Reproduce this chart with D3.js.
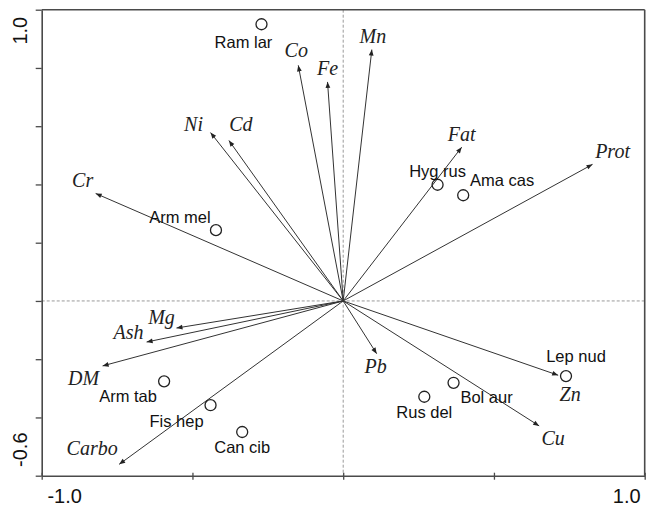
<!DOCTYPE html>
<html>
<head>
<meta charset="utf-8">
<script src="https://cdn.jsdelivr.net/npm/d3@7"></script>
<style>
  html, body { margin: 0; padding: 0; background: #fff; }
  svg { display: block; }
</style>
</head>
<body>
<svg id="chart" width="646" height="506"></svg>
<script>
// Variable loadings (arrows)
const variables = ["Co", "Fe", "Mn", "Ni", "Cd", "Cr", "Fat", "Prot", "Mg", "Ash", "DM", "Carbo", "Pb", "Zn", "Cu"];
const varX = [-0.149, -0.052, 0.095, -0.440, -0.379, -0.821, 0.393, 0.827, -0.553, -0.652, -0.798, -0.743, 0.111, 0.713, 0.650];
const varY = [0.809, 0.752, 0.863, 0.578, 0.551, 0.369, 0.528, 0.469, -0.093, -0.141, -0.223, -0.561, -0.181, -0.255, -0.429];

// Species scores (circles)
const species = ["Ram lar", "Arm mel", "Hyg rus", "Ama cas", "Arm tab", "Fis hep", "Can cib", "Lep nud", "Bol aur", "Rus del"];
const spX = [-0.271, -0.422, 0.313, 0.398, -0.594, -0.440, -0.335, 0.739, 0.366, 0.269];
const spY = [0.950, 0.243, 0.399, 0.363, -0.276, -0.358, -0.450, -0.258, -0.281, -0.329];

// Axis ticks and the end labels shown
const xTicks = [-1.0, -0.5, 0, 0.5, 1.0];
const yTicks = [-0.6, -0.4, -0.2, 0, 0.2, 0.4, 0.6, 0.8, 1.0];
const xTickLabels = ["-1.0", "1.0"];
const yTickLabels = ["-0.6", "1.0"];

// Label placement (pixel offsets from arrow tip / circle centre)
const varLabelOffset = {
  Co: [-2, -8], Fe: [0, -7], Mn: [1, -7], Ni: [-17, -2], Cd: [12, -9],
  Cr: [-13, -6], Fat: [0, -6], Prot: [20, -6], Mg: [-15, -4], Ash: [-18, -3],
  DM: [-19, 19], Carbo: [-27, -9], Pb: [-1, 19], Zn: [12, 26], Cu: [14, 19]
};
const spLabelOffset = {
  "Ram lar": [-18, 24], "Arm mel": [-36, -7], "Hyg rus": [0, -8], "Ama cas": [39, -9],
  "Arm tab": [-36, 21], "Fis hep": [-34, 22], "Can cib": [0, 21], "Lep nud": [10, -14],
  "Bol aur": [33, 20], "Rus del": [0, 21]
};

const svg = d3.select("#chart");
const plotLeft = 41.7, plotRight = 644.7, plotTop = 9.7, plotBottom = 475.7;

const x = d3.scaleLinear().domain([-1, 1]).range([plotLeft, plotRight]);
const y = d3.scaleLinear().domain([-0.6, 1.0]).range([plotBottom, plotTop]);

const frameColor = "#4a4a4a";

// Zero reference lines
svg.append("line")
  .attr("x1", x(0)).attr("x2", x(0)).attr("y1", y(1.0)).attr("y2", y(-0.6))
  .attr("stroke", "#9a9a9a").attr("stroke-width", 1).attr("stroke-dasharray", "3,2");
svg.append("line")
  .attr("x1", x(-1)).attr("x2", x(1)).attr("y1", y(0)).attr("y2", y(0))
  .attr("stroke", "#9a9a9a").attr("stroke-width", 1).attr("stroke-dasharray", "3,2");

// Arrowhead marker
svg.append("defs").append("marker")
  .attr("id", "head")
  .attr("viewBox", "0 0 10 10")
  .attr("refX", 10).attr("refY", 5)
  .attr("markerUnits", "userSpaceOnUse")
  .attr("markerWidth", 7).attr("markerHeight", 6)
  .attr("orient", "auto")
  .append("path")
  .attr("d", "M0,1 L10,5 L0,9 Z")
  .attr("fill", "#222");

// Loading arrows
const vars = variables.map((name, i) => ({ name, vx: varX[i], vy: varY[i] }));
svg.append("g").selectAll("line").data(vars).join("line")
  .attr("x1", x(0)).attr("y1", y(0))
  .attr("x2", d => x(d.vx)).attr("y2", d => y(d.vy))
  .attr("stroke", "#333").attr("stroke-width", 1)
  .attr("marker-end", "url(#head)");

svg.append("g").selectAll("text").data(vars).join("text")
  .attr("x", d => x(d.vx) + varLabelOffset[d.name][0])
  .attr("y", d => y(d.vy) + varLabelOffset[d.name][1])
  .attr("text-anchor", "middle")
  .attr("font-family", "'Liberation Serif', 'Times New Roman', serif")
  .attr("font-style", "italic")
  .attr("font-size", 20)
  .attr("fill", "#222")
  .text(d => d.name);

// Species circles
const sps = species.map((name, i) => ({ name, sx: spX[i], sy: spY[i] }));
svg.append("g").selectAll("circle").data(sps).join("circle")
  .attr("cx", d => x(d.sx)).attr("cy", d => y(d.sy))
  .attr("r", 5.5)
  .attr("fill", "none").attr("stroke", "#222").attr("stroke-width", 1.3);

svg.append("g").selectAll("text").data(sps).join("text")
  .attr("x", d => x(d.sx) + spLabelOffset[d.name][0])
  .attr("y", d => y(d.sy) + spLabelOffset[d.name][1])
  .attr("text-anchor", "middle")
  .attr("font-family", "'Liberation Sans', Arial, sans-serif")
  .attr("font-size", 16.5)
  .attr("fill", "#111")
  .text(d => d.name);

// Axes
const xAxis = svg.append("g")
  .attr("transform", `translate(0,${plotBottom})`)
  .call(d3.axisBottom(x).tickValues(xTicks).tickSize(4).tickSizeOuter(0).tickFormat(""));
const yAxis = svg.append("g")
  .attr("transform", `translate(${plotLeft},0)`)
  .call(d3.axisLeft(y).tickValues(yTicks).tickSize(6).tickSizeOuter(0).tickFormat(""));
[xAxis, yAxis].forEach(a => {
  a.select(".domain").attr("stroke", frameColor).attr("stroke-width", 1.6);
  a.selectAll(".tick line").attr("stroke", frameColor).attr("stroke-width", 1.3);
});
xAxis.selectAll(".tick line").attr("y1", -3);

// Top and right frame
svg.append("line").attr("x1", plotLeft).attr("x2", plotRight).attr("y1", plotTop).attr("y2", plotTop)
  .attr("stroke", frameColor).attr("stroke-width", 1.6);
svg.append("line").attr("x1", plotRight).attr("x2", plotRight).attr("y1", plotTop).attr("y2", plotBottom)
  .attr("stroke", frameColor).attr("stroke-width", 1.6);

// End tick labels
const tickFont = "'Liberation Sans', Arial, sans-serif";
svg.append("text").attr("x", x(-1) + 23).attr("y", plotBottom + 27)
  .attr("text-anchor", "middle").attr("font-family", tickFont).attr("font-size", 20)
  .attr("fill", "#111").text(xTickLabels[0]);
svg.append("text").attr("x", x(1) - 18).attr("y", plotBottom + 27)
  .attr("text-anchor", "middle").attr("font-family", tickFont).attr("font-size", 20)
  .attr("fill", "#111").text(xTickLabels[1]);
svg.append("text")
  .attr("transform", `translate(${plotLeft - 15},${y(-0.6) - 26}) rotate(-90)`)
  .attr("text-anchor", "middle").attr("font-family", tickFont).attr("font-size", 20)
  .attr("fill", "#111").text(yTickLabels[0]);
svg.append("text")
  .attr("transform", `translate(${plotLeft - 15},${y(1.0) + 21}) rotate(-90)`)
  .attr("text-anchor", "middle").attr("font-family", tickFont).attr("font-size", 20)
  .attr("fill", "#111").text(yTickLabels[1]);
</script>
</body>
</html>
